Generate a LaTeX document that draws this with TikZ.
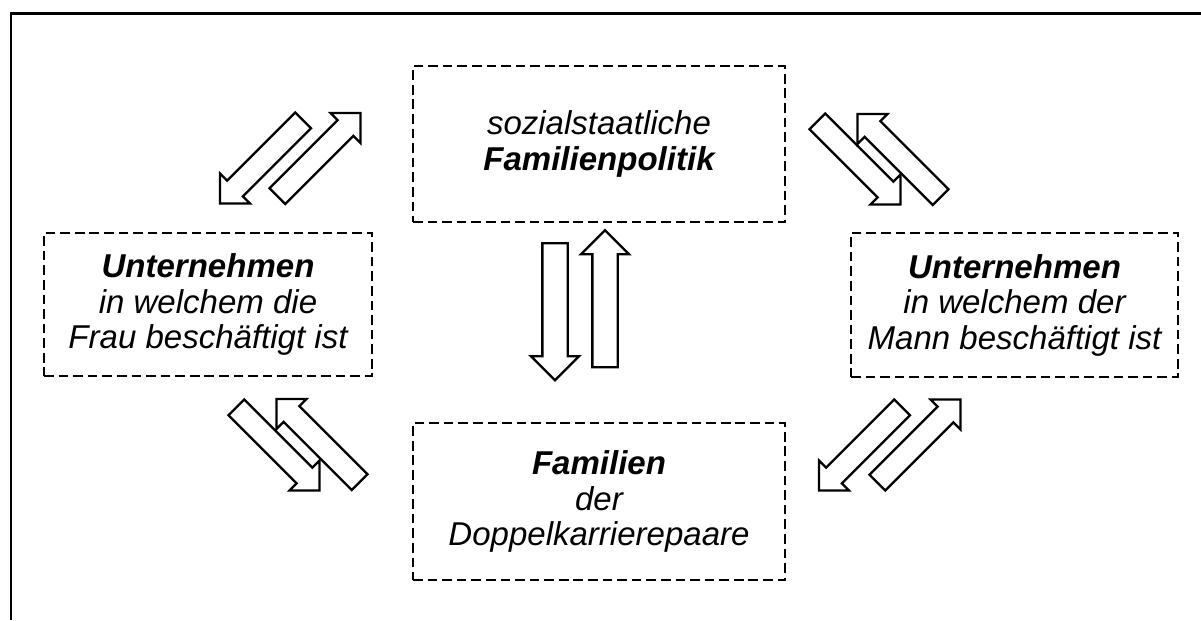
\documentclass[tikz,border=0pt]{standalone}
\usepackage{fontspec}
\setmainfont{Liberation Sans}
\usetikzlibrary{shapes.arrows, positioning}

\begin{document}
\begin{tikzpicture}[
    x=0.02cm, y=0.02cm,
    box/.style={rectangle, draw, dashed, dash pattern=on 5.5pt off 2.8pt, line width=1.3pt, align=center, inner sep=0pt, font=\itshape\fontsize{18.8}{20.2}\selectfont},
    uparrow/.style={single arrow, draw, line width=1.3pt, inner xsep=0pt, inner ysep=.23cm, single arrow head extend=.23cm, minimum height=2.74cm},
    diagarrow/.style={single arrow, draw, line width=1.3pt, inner xsep=0pt, inner ysep=.2cm, single arrow head extend=.2cm, minimum height=2.35cm}
]
\useasboundingbox (0,0) rectangle (1201,-620);
\draw[line width=1.6pt] (11,-620) -- (11,-13.5) -- (1201,-13.5);

% Kaesten
\node[box, minimum width=7.44cm, minimum height=3.12cm] (politik) at (599,-144) {sozialstaatliche\\\textbf{Familienpolitik}};
\node[box, minimum width=6.56cm, minimum height=2.86cm] (frau) at (208,-304.5) {\textbf{Unternehmen}\\in welchem die\\Frau besch\"aftigt ist};
\node[box, minimum width=6.54cm, minimum height=2.88cm] (mann) at (1014.5,-305) {\textbf{Unternehmen}\\in welchem der\\Mann besch\"aftigt ist};
\node[box, minimum width=7.44cm, minimum height=3.14cm] (familie) at (599,-501.5) {\textbf{Familien}\\der\\Doppelkarrierepaare};

% Pfeile
\node[uparrow, rotate=-90] (pf1) at (555,-305.5) {};
\node[uparrow, rotate=90] (pf2) at (605,-305) {};
\node[diagarrow, rotate=-135] (pf3) at (265.5,-158) {};
\node[diagarrow, rotate=45] (pf4) at (315,-158.5) {};
\node[diagarrow, rotate=-45] (pf5) at (855,-159) {};
\node[diagarrow, rotate=135] (pf6) at (903,-159.5) {};
\node[diagarrow, rotate=-45] (pf7) at (274,-445) {};
\node[diagarrow, rotate=135] (pf8) at (322,-444.5) {};
\node[diagarrow, rotate=-135] (pf9) at (864.5,-445) {};
\node[diagarrow, rotate=45] (pf10) at (915,-445) {};
\end{tikzpicture}
\end{document}
